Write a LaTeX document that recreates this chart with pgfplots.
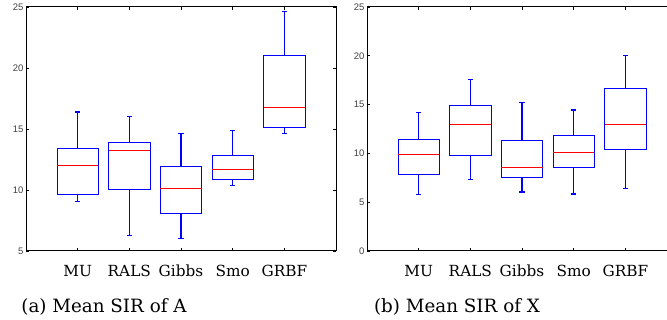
\documentclass[border=0pt]{standalone}
\usepackage{fontspec}
\usepackage{pgfplots}
\pgfplotsset{compat=1.18}
\usepgfplotslibrary{statistics}
\newfontfamily\ticksf{Liberation Sans}
\newfontfamily\labserif{DejaVu Serif}
\pgfplotsset{
  sirbase/.style={
    scale only axis, width=310pt, height=244pt,
    anchor=north west,
    xmin=0, xmax=6,
    xtick={1,2,3,4,5},
    xticklabels={MU,RALS,Gibbs,Smo,GRBF},
    tick pos=both, tick align=inside,
    major tick length=3pt,
    tick style={black, line width=0.8pt},
    axis line style={black, line width=1pt},
    /pgf/number format/assume math mode=true,
    yticklabel style={font=\ticksf\fontsize{9.5}{10}\selectfont, text=black!75, xshift=1pt},
    xticklabel style={font=\labserif\fontsize{15.3}{20}\selectfont, anchor=base, yshift=-26pt},
    boxplot/draw direction=y,
    boxplot/box extend=0.8,
    boxplot/whisker extend=0.1,
    boxplot/every median/.style={red, line width=1pt},
    boxplot/every box/.style={blue, line width=1pt},
    boxplot/every whisker/.style={blue, line width=1.2pt},
  },
  bx/.style={blue, solid, line width=1pt},
}
\begin{document}
\begin{tikzpicture}
\useasboundingbox (0,0) rectangle (667pt,-320pt);
\begin{scope}
\clip (0,0) rectangle (667pt,-320pt);
\begin{axis}[sirbase, at={(26pt,-7pt)}, ymin=5, ymax=25, ytick={5,10,15,20,25}]
\addplot[bx, boxplot prepared={draw position=1, lower whisker=9.05, lower quartile=9.67, median=12.0, upper quartile=13.4, upper whisker=16.4}] coordinates {};
\addplot[bx, boxplot prepared={draw position=2, lower whisker=6.3, lower quartile=10.03, median=13.25, upper quartile=13.9, upper whisker=16.0}] coordinates {};
\addplot[bx, boxplot prepared={draw position=3, lower whisker=6.0, lower quartile=8.1, median=10.15, upper quartile=11.95, upper whisker=14.65}] coordinates {};
\addplot[bx, boxplot prepared={draw position=4, lower whisker=10.4, lower quartile=10.9, median=11.65, upper quartile=12.8, upper whisker=14.9}] coordinates {};
\addplot[bx, boxplot prepared={draw position=5, lower whisker=14.65, lower quartile=15.1, median=16.8, upper quartile=21.0, upper whisker=24.6}] coordinates {};
\end{axis}
\begin{axis}[sirbase, at={(367pt,-7pt)}, ymin=0, ymax=25, ytick={0,5,10,15,20,25}]
\addplot[bx, boxplot prepared={draw position=1, lower whisker=5.75, lower quartile=7.85, median=9.9, upper quartile=11.45, upper whisker=14.2}] coordinates {};
\addplot[bx, boxplot prepared={draw position=2, lower whisker=7.35, lower quartile=9.8, median=12.95, upper quartile=14.9, upper whisker=17.6}] coordinates {};
\addplot[bx, boxplot prepared={draw position=3, lower whisker=6.05, lower quartile=7.5, median=8.6, upper quartile=11.3, upper whisker=15.2}] coordinates {};
\addplot[bx, boxplot prepared={draw position=4, lower whisker=5.85, lower quartile=8.55, median=10.1, upper quartile=11.8, upper whisker=14.45}] coordinates {};
\addplot[bx, boxplot prepared={draw position=5, lower whisker=6.4, lower quartile=10.35, median=12.95, upper quartile=16.7, upper whisker=20.05}] coordinates {};
\end{axis}
\end{scope}
\node[anchor=base, font=\labserif\fontsize{18.3}{22}\selectfont] at (104pt,-313pt) {(a) Mean SIR of A};
\node[anchor=base, font=\labserif\fontsize{18.3}{22}\selectfont] at (457pt,-313pt) {(b) Mean SIR of X};
\end{tikzpicture}
\end{document}
